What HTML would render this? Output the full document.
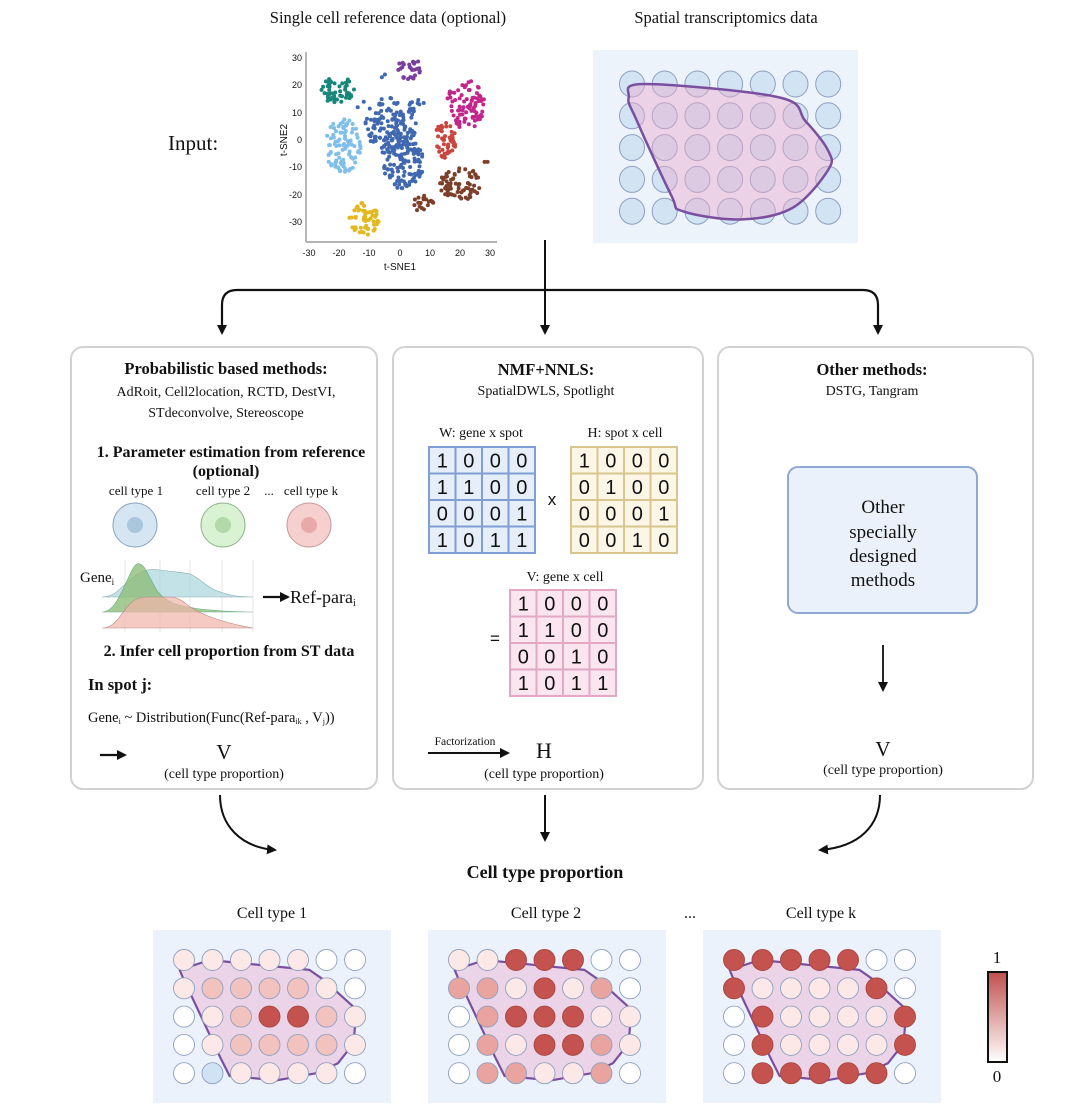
<!DOCTYPE html>
<html><head><meta charset="utf-8"><style>
html,body{margin:0;padding:0;background:#fff;}
svg{display:block;}
text{font-family:"Liberation Serif",serif;fill:#111;}
.s{font-family:"Liberation Sans",sans-serif;}
</style></head><body>
<svg id="sv" width="1080" height="1111" viewBox="0 0 1080 1111" xmlns="http://www.w3.org/2000/svg">
<defs>
<marker id="ah" markerWidth="10" markerHeight="10" refX="8" refY="5" orient="auto" markerUnits="userSpaceOnUse"><path d="M0,0 L10,5 L0,10 z" fill="#111"/></marker>
<linearGradient id="cb" x1="0" y1="0" x2="0" y2="1"><stop offset="0" stop-color="#c0504d"/><stop offset="1" stop-color="#fff"/></linearGradient>
</defs>
<text x="388" y="23" font-size="16.5" text-anchor="middle">Single cell reference data (optional)</text>
<text x="726" y="23" font-size="16.5" text-anchor="middle">Spatial transcriptomics data</text>
<text x="168" y="150" font-size="21">Input:</text>
<g id="tsne"></g>
<line x1="306" y1="52" x2="306" y2="242" stroke="#888" stroke-width="1.2"/>
<line x1="306" y1="242" x2="497" y2="242" stroke="#888" stroke-width="1.2"/>
<g>
<text class="s" x="309" y="256" font-size="9" text-anchor="middle">-30</text>
<text class="s" x="339" y="256" font-size="9" text-anchor="middle">-20</text>
<text class="s" x="369" y="256" font-size="9" text-anchor="middle">-10</text>
<text class="s" x="400" y="256" font-size="9" text-anchor="middle">0</text>
<text class="s" x="430" y="256" font-size="9" text-anchor="middle">10</text>
<text class="s" x="460" y="256" font-size="9" text-anchor="middle">20</text>
<text class="s" x="490" y="256" font-size="9" text-anchor="middle">30</text>
<text class="s" x="302" y="61" font-size="9" text-anchor="end">30</text>
<text class="s" x="302" y="88" font-size="9" text-anchor="end">20</text>
<text class="s" x="302" y="116" font-size="9" text-anchor="end">10</text>
<text class="s" x="302" y="143" font-size="9" text-anchor="end">0</text>
<text class="s" x="302" y="170" font-size="9" text-anchor="end">-10</text>
<text class="s" x="302" y="198" font-size="9" text-anchor="end">-20</text>
<text class="s" x="302" y="225" font-size="9" text-anchor="end">-30</text>
<text class="s" x="400" y="270" font-size="10" text-anchor="middle">t-SNE1</text>
<text class="s" x="0" y="0" font-size="10" text-anchor="middle" transform="translate(287,140) rotate(-90)">t-SNE2</text>
</g>
<rect x="593" y="50" width="265" height="193" fill="#edf3fb"/>
<g id="topc"></g>
<path id="toppoly" fill="rgba(232,170,205,0.45)" stroke="#7a4fa0" stroke-width="2.5"/>
<line x1="545" y1="240" x2="545" y2="333" stroke="#111" stroke-width="2" marker-end="url(#ah)"/>
<path d="M222,333 L222,305 Q222,290 237,290 L863,290 Q878,290 878,305 L878,333" fill="none" stroke="#111" stroke-width="2.2" marker-end="url(#ah)"/>
<line x1="222" y1="305" x2="222" y2="333" stroke="#111" stroke-width="2" marker-end="url(#ah)"/>
<rect x="71" y="347" width="306" height="442" rx="12" fill="#fff" stroke="#d2d2d2" stroke-width="2"/>
<rect x="393" y="347" width="310" height="442" rx="12" fill="#fff" stroke="#d2d2d2" stroke-width="2"/>
<rect x="718" y="347" width="315" height="442" rx="12" fill="#fff" stroke="#d2d2d2" stroke-width="2"/>
<text x="226" y="374" font-size="16.5" font-weight="bold" text-anchor="middle">Probabilistic based methods:</text>
<text x="226" y="396" font-size="14" text-anchor="middle">AdRoit, Cell2location, RCTD, DestVI,</text>
<text x="226" y="417" font-size="14" text-anchor="middle">STdeconvolve, Stereoscope</text>
<text x="231" y="457" font-size="16" font-weight="bold" text-anchor="middle">1. Parameter estimation from reference</text>
<text x="226" y="476" font-size="16" font-weight="bold" text-anchor="middle">(optional)</text>
<text x="136" y="495" font-size="13" text-anchor="middle">cell type 1</text>
<text x="223" y="495" font-size="13" text-anchor="middle">cell type 2</text>
<text x="269" y="495" font-size="13" text-anchor="middle">...</text>
<text x="311" y="495" font-size="13" text-anchor="middle">cell type k</text>
<ellipse cx="135" cy="525" rx="22" ry="22" fill="#d5e5f2" stroke="#8ba5bf"/><circle cx="135" cy="525" r="8" fill="#a9c6dd"/>
<ellipse cx="223" cy="525" rx="22" ry="22" fill="#d8f2d2" stroke="#8fb58a"/><circle cx="223" cy="525" r="8" fill="#b2d9a9"/>
<ellipse cx="309" cy="525" rx="22" ry="22" fill="#f6cfcf" stroke="#c99a9a"/><circle cx="309" cy="525" r="8" fill="#e9a9aa"/>
<g stroke="#e4e4e4" stroke-width="1"><line x1="125" y1="560" x2="125" y2="632"/><line x1="160" y1="560" x2="160" y2="632"/><line x1="190" y1="560" x2="190" y2="632"/><line x1="222" y1="560" x2="222" y2="632"/><line x1="253" y1="560" x2="253" y2="632"/></g>
<path d="M102,597 C115,597 120,588 130,580 C140,572 145,568 160,570 C175,572 180,572 190,574 C200,578 205,586 215,590 C230,596 240,597 253,597 Z" fill="#a9d6de" fill-opacity="0.7" stroke="#8aa" stroke-width="0.6"/>
<path d="M102,612 C112,612 118,600 125,585 C132,570 135,562 140,564 C146,566 150,580 158,592 C168,604 180,606 200,609 C220,611 235,612 253,612 Z" fill="#8fbd78" fill-opacity="0.8" stroke="#6a8" stroke-width="0.6"/>
<path d="M102,628 C115,628 120,615 128,606 C135,598 140,597 150,597 L170,597 C180,597 185,604 195,610 C210,618 230,624 253,628 Z" fill="#f1b3a8" fill-opacity="0.7" stroke="#b88" stroke-width="0.6"/>
<text x="80" y="582" font-size="15">Gene<tspan font-size="9" dy="3">i</tspan></text>
<line x1="263" y1="597" x2="288" y2="597" stroke="#111" stroke-width="2.2" marker-end="url(#ah)"/>
<text x="290" y="603" font-size="18">Ref-para<tspan font-size="10" dy="3">i</tspan></text>
<text x="229" y="656" font-size="16" font-weight="bold" text-anchor="middle">2. Infer cell proportion from ST data</text>
<text x="88" y="690" font-size="16.5" font-weight="bold">In spot j:</text>
<text x="88" y="722" font-size="14.5">Gene<tspan font-size="8" dy="2">i</tspan><tspan dy="-2"> ~ Distribution(Func(Ref-para</tspan><tspan font-size="8" dy="2">ik</tspan><tspan dy="-2"> , V</tspan><tspan font-size="8" dy="2">j</tspan><tspan dy="-2">))</tspan></text>
<line x1="100" y1="755" x2="125" y2="755" stroke="#111" stroke-width="2.2" marker-end="url(#ah)"/>
<text x="224" y="759" font-size="21" text-anchor="middle">V</text>
<text x="224" y="778" font-size="14" text-anchor="middle">(cell type proportion)</text>
<text x="546" y="375" font-size="16.5" font-weight="bold" text-anchor="middle">NMF+NNLS:</text>
<text x="546" y="395" font-size="14" text-anchor="middle">SpatialDWLS, Spotlight</text>
<text x="481" y="437" font-size="14" text-anchor="middle">W: gene x spot</text>
<text x="625" y="437" font-size="14" text-anchor="middle">H: spot x cell</text>
<text x="565" y="581" font-size="14" text-anchor="middle">V: gene x cell</text>
<g id="mats"></g>
<text x="552" y="505" font-size="17" class="s" text-anchor="middle">x</text>
<text x="495" y="644" font-size="17" class="s" text-anchor="middle">=</text>
<line x1="428" y1="753" x2="508" y2="753" stroke="#111" stroke-width="2" marker-end="url(#ah)"/>
<text x="465" y="745" font-size="11.5" text-anchor="middle">Factorization</text>
<text x="544" y="758" font-size="22" text-anchor="middle">H</text>
<text x="544" y="778" font-size="14" text-anchor="middle">(cell type proportion)</text>
<text x="872" y="375" font-size="16.5" font-weight="bold" text-anchor="middle">Other methods:</text>
<text x="872" y="395" font-size="14" text-anchor="middle">DSTG, Tangram</text>
<rect x="788" y="467" width="189" height="146" rx="10" fill="#ebf1fa" stroke="#8fa8d4" stroke-width="2"/>
<text x="883" y="513" font-size="19" text-anchor="middle">Other</text>
<text x="883" y="538" font-size="19" text-anchor="middle">specially</text>
<text x="883" y="562" font-size="19" text-anchor="middle">designed</text>
<text x="883" y="586" font-size="19" text-anchor="middle">methods</text>
<line x1="883" y1="645" x2="883" y2="690" stroke="#111" stroke-width="1.8" marker-end="url(#ah)"/>
<text x="883" y="756" font-size="21" text-anchor="middle">V</text>
<text x="883" y="774" font-size="14" text-anchor="middle">(cell type proportion)</text>
<path d="M220,795 C220,825 240,847 275,850" fill="none" stroke="#111" stroke-width="2" marker-end="url(#ah)"/>
<line x1="545" y1="795" x2="545" y2="840" stroke="#111" stroke-width="2" marker-end="url(#ah)"/>
<path d="M880,795 C880,825 860,847 820,850" fill="none" stroke="#111" stroke-width="2" marker-end="url(#ah)"/>
<text x="545" y="878" font-size="18" font-weight="bold" text-anchor="middle">Cell type proportion</text>
<text x="272" y="918" font-size="16" text-anchor="middle">Cell type 1</text>
<text x="546" y="918" font-size="16" text-anchor="middle">Cell type 2</text>
<text x="690" y="918" font-size="16" text-anchor="middle">...</text>
<text x="821" y="918" font-size="16" text-anchor="middle">Cell type k</text>
<g id="bot"></g>
<rect x="988" y="972" width="19" height="90" fill="url(#cb)" stroke="#111" stroke-width="2"/>
<text x="997" y="963" font-size="17" text-anchor="middle">1</text>
<text x="997" y="1082" font-size="17" text-anchor="middle">0</text>
</svg>
<script>
var NS="http://www.w3.org/2000/svg";
function el(p,t,a){var e=document.createElementNS(NS,t);for(var k in a)e.setAttribute(k,a[k]);p.appendChild(e);return e;}
var seed=7;function rnd(){seed=(seed*16807)%2147483647;return seed/2147483647;}
var ts=document.getElementById('tsne');
function X(v){return 400+3.02*v;} function Y(v){return 140-2.73*v;}
var cl=[["#17877a",-21,18.5,6,5,50],["#7fbfea",-19,-2,6,10,95],["#3f68b0",-3,6,9,10,130],["#3f68b0",1,-7,7,11,120],["#3f68b0",5,13,3,3,10],["#7a3f9a",3,26,4.5,4,30],["#c2268a",22,13,6.5,9,85],["#c9463e",15,0,3.5,7,50],["#7c3f2a",20,-16,7,6,70],["#7c3f2a",7,-23,4,3,20],["#e2b81e",-12,-29,5,6,55]];
cl.forEach(function(c){for(var i=0;i<c[5];i++){var a=rnd()*6.283,r=Math.sqrt(rnd());var x=c[1]+Math.cos(a)*r*c[3],y=c[2]+Math.sin(a)*r*c[4];el(ts,'circle',{cx:X(x),cy:Y(y),r:2,fill:c[0]});}});
[[-6,23],[-5,24],[28,-8],[29,-8],[-12,14],[-14,12]].forEach(function(p){el(ts,'circle',{cx:X(p[0]),cy:Y(p[1]),r:2,fill:p[0]>20?"#7c3f2a":"#3f68b0"});});
var tc=document.getElementById('topc');
for(var r=0;r<5;r++)for(var c=0;c<7;c++)el(tc,'ellipse',{cx:632+32.7*c,cy:84+31.8*r,rx:12.5,ry:13,fill:"#d2e4f4",stroke:"#8f9fbf","stroke-width":1});
var tp=[[-0.1,0.42],[0.4,0],[4.5,0.42],[5.3,1.16],[6,2.1],[6,2.7],[4.9,3.9],[3.3,4.26],[1.55,4.0],[1.2,3.5],[0.15,1.16]];
var P=tp.map(function(p){return [632+32.7*p[0],84+31.8*p[1]];});
var n=P.length,d="M"+P[0][0]+","+P[0][1];
for(var i=0;i<n;i++){var p0=P[(i-1+n)%n],p1=P[i],p2=P[(i+1)%n],p3=P[(i+2)%n];
var c1=[p1[0]+(p2[0]-p0[0])/6,p1[1]+(p2[1]-p0[1])/6],c2=[p2[0]-(p3[0]-p1[0])/6,p2[1]-(p3[1]-p1[1])/6];
d+=" C"+c1[0]+","+c1[1]+" "+c2[0]+","+c2[1]+" "+p2[0]+","+p2[1];}
document.getElementById('toppoly').setAttribute('d',d+"Z");
var mt=document.getElementById('mats');
function mat(x0,y0,cs,bg,st,rows){el(mt,'rect',{x:x0,y:y0,width:cs*4,height:cs*4,fill:bg,stroke:st,"stroke-width":2});
for(var i=1;i<4;i++){el(mt,'line',{x1:x0+cs*i,y1:y0,x2:x0+cs*i,y2:y0+cs*4,stroke:st,"stroke-width":2});el(mt,'line',{x1:x0,y1:y0+cs*i,x2:x0+cs*4,y2:y0+cs*i,stroke:st,"stroke-width":2});}
rows.forEach(function(row,ri){row.split("").forEach(function(ch,ci){var t=el(mt,'text',{x:x0+cs*ci+cs/2,y:y0+cs*ri+cs/2+7,"font-size":20,"text-anchor":"middle","class":"s"});t.textContent=ch;});});}
mat(429,447,26.5,"#e6eefa","#7f9fd4",["1000","1100","0001","1011"]);
mat(571,447,26.5,"#fbf6e6","#d9c58e",["1000","0100","0001","0010"]);
mat(510,590,26.5,"#fbe6f0","#e2a8c4",["1000","1100","0010","1011"]);
var bt=document.getElementById('bot');
var col={W:"#ffffff",L:"#fce9e7",M:"#f2c2be",m:"#eaa4a0",D:"#c4524e",B:"#cfe3f4"};
var pans=[[153,184,["LLLLLWW","LMMMMLW","WLMDDML","WLMMMML","WBLLLLW"]],[428,459,["LLDDDWW","mmLDLmW","WmDDDLL","WmLDDmL","WmmLLmW"]],[703,734,["DDDDDWW","DLLLLDW","WDLLLLD","WDLLLLD","WDDDDDW"]]];
var bp=[[-0.15,0.35],[0.9,0],[4.4,0.35],[4.9,0.7],[6.05,1.75],[5.95,2.95],[5.4,3.65],[4.65,4.0],[3.25,4.25],[1.6,4.1],[1.3,3.5],[-0.05,0.6]];
pans.forEach(function(p){el(bt,'rect',{x:p[0],y:930,width:238,height:173,fill:"#ebf2fb"});
el(bt,'polygon',{points:bp.map(function(q){return (p[1]+28.5*q[0])+","+(960+28.3*q[1]);}).join(" "),fill:"#ecd4e8",stroke:"#7a4fa0","stroke-width":2.2,"stroke-linejoin":"round"});
p[2].forEach(function(row,r){row.split("").forEach(function(ch,c){el(bt,'circle',{cx:p[1]+28.5*c,cy:960+28.3*r,r:10.5,fill:col[ch],stroke:ch=="D"?"#a84540":"#8f9fbf","stroke-width":0.9});});});});
</script>
</body></html>
